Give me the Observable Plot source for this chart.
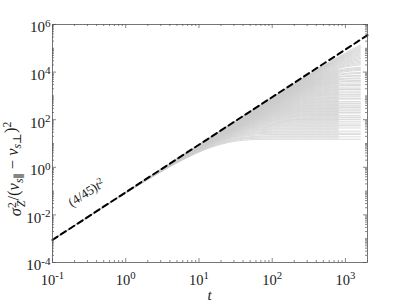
<!DOCTYPE html>
<html>
<head>
<meta charset="utf-8">
<script src="https://cdn.jsdelivr.net/npm/d3@7"></script>
<script src="https://cdn.jsdelivr.net/npm/@observablehq/plot@0.6"></script>
<style>
  html, body { margin: 0; padding: 0; background: #fff; }
  svg, svg text { font-family: "Liberation Serif", "Times New Roman", "DejaVu Serif", serif !important; }
</style>
</head>
<body>
<div id="chart"></div>
<script>
// ---- data ----
const xMajorTicks = [0.1, 1, 10, 100, 1000];
const xTickLabels = ["10^-1", "10^0", "10^1", "10^2", "10^3"];
const yMajorTicks = [1e-4, 1e-2, 1, 1e2, 1e4, 1e6];
const yTickLabels = ["10^-4", "10^-2", "10^0", "10^2", "10^4", "10^6"];

// reference line (4/45) t^2 : end points
const refT = [0.1, 2000];
const refV = [8.9e-4, 3.56e5];

// saturation levels of the grey curves and the time each one ends
const plateaus = [15, 17, 19, 21, 24, 27, 30, 33, 37, 41,
  45, 50, 55, 60, 66, 72, 79, 86, 94, 102,
  110, 120, 130, 140, 152, 165, 178, 192, 207, 223,
  240, 258, 277, 298, 320, 345, 370, 400, 430, 465,
  500, 540, 580, 625, 675, 730, 790, 850, 920, 1000,
  1080, 1170, 1260, 1360, 1470, 1590, 1720, 1860, 2000, 2170,
  2350, 2550, 2750, 3000, 3250, 3500, 3800, 4100, 4450, 4800,
  5200, 5700, 6200, 6800, 7400, 8100, 8900, 9800, 10800, 12000,
  13500, 15000, 17000, 19000, 22000, 25000, 29000, 34000, 40000, 47000,
  56000, 68000, 82000, 100000, 125000, 160000, 200000, 260000, 350000, 500000, 800000];
const endTimes = [1600, 800, 1600, 800, 1600, 1600, 800, 1600, 800, 800,
  1600, 800, 1600, 1600, 800, 1600, 800, 1600, 800, 1600,
  800, 1600, 1600, 800, 1600, 800, 800, 1600, 1600, 800,
  1600, 800, 1600, 800, 1600, 1600, 800, 1600, 800, 1600,
  1600, 800, 1600, 800, 800, 1600, 1600, 800, 1600, 800,
  1600, 1600, 800, 1600, 800, 1600, 800, 1600, 1600, 800,
  1600, 800, 1600, 1600, 800, 1600, 800, 1600, 1600, 800,
  1600, 1600, 800, 1600, 1600, 800, 1600, 1600, 800, 1600,
  1600, 1600, 1600, 800, 1600, 1600, 1600, 1600, 1600, 1600,
  1600, 1600, 1600, 1600, 1600, 1600, 1600, 1600, 1600, 1600, 1600];
const tSample = [0.1, 0.15, 0.2, 0.3, 0.5, 0.7, 1, 1.5, 2, 3, 4, 5, 6, 7, 8, 9, 10, 12, 14, 17, 20, 25, 30, 35,
  40, 50, 60, 70, 85, 100, 120, 150, 200, 250, 300, 400, 500, 650, 800, 1000, 1300, 1600];
const growth = 4 / 45;

// ---- build rows ----
const curves = [];
plateaus.forEach((P, i) => {
  const tE = endTimes[i] ?? 1600;
  const tau = Math.sqrt(P / growth);
  tSample.filter(t => t <= tE).forEach(t => {
    const r = 1 - Math.exp(-t / tau);
    curves.push({id: i, t, v: P * r * r});
  });
});
const refLine = refT.map((t, i) => ({t, v: refV[i]}));

const W = 407, H = 306, mL = 52, mR = 40, mT = 24, mB = 44;
const pw = W - mL - mR, ph = H - mT - mB;

const xMinor = [];
for (let e = -1; e <= 3; e++) for (let k = 2; k <= 9; k++) { const v = k * Math.pow(10, e); if (v <= 2000) xMinor.push(v); }
const yMinor = [];
for (let e = -4; e < 6; e++) for (let k = 1; k <= 9; k++) { const v = k * Math.pow(10, e); if (!yMajorTicks.includes(v)) yMinor.push(v); }

const FONT = "'Liberation Serif', 'Times New Roman', 'DejaVu Serif', serif";
const axisColor = "#555";
const svg = Plot.plot({
  width: W, height: H,
  marginLeft: mL, marginRight: mR, marginTop: mT, marginBottom: mB,
  style: {fontFamily: FONT, fontSize: "12px", background: "#fff"},
  x: {type: "log", domain: [0.1, 2000], axis: null},
  y: {type: "log", domain: [1e-4, 1e6], axis: null},
  marks: [
    Plot.line(curves, {x: "t", y: "v", z: "id", stroke: "#cbcbcb", strokeWidth: 0.7}),
    Plot.line(refLine, {x: "t", y: "v", stroke: "#000", strokeWidth: 2, strokeDasharray: "6,4"}),
    // ticks (inside, MATLAB box style)
    Plot.tickX(xMajorTicks, {x: d => d, insetTop: ph - 4, stroke: axisColor, strokeWidth: 0.7}),
    Plot.tickX(xMajorTicks, {x: d => d, insetBottom: ph - 4, stroke: axisColor, strokeWidth: 0.7}),
    Plot.tickX(xMinor, {x: d => d, insetTop: ph - 2, stroke: axisColor, strokeWidth: 0.7}),
    Plot.tickX(xMinor, {x: d => d, insetBottom: ph - 2, stroke: axisColor, strokeWidth: 0.7}),
    Plot.tickY(yMajorTicks, {y: d => d, insetRight: pw - 4, stroke: axisColor, strokeWidth: 0.7}),
    Plot.tickY(yMajorTicks, {y: d => d, insetLeft: pw - 4, stroke: axisColor, strokeWidth: 0.7}),
    Plot.tickY(yMinor, {y: d => d, insetRight: pw - 2, stroke: axisColor, strokeWidth: 0.7}),
    Plot.tickY(yMinor, {y: d => d, insetLeft: pw - 2, stroke: axisColor, strokeWidth: 0.7}),
    Plot.frame({stroke: axisColor, strokeWidth: 0.8}),
    // tick labels
    Plot.text(xMajorTicks, {x: d => d, text: (d, i) => xTickLabels[i], frameAnchor: "bottom", dy: 22, fontSize: 14.5, fill: "#1a1a1a"}),
    Plot.text(yMajorTicks, {y: d => d, text: (d, i) => yTickLabels[i], frameAnchor: "left", textAnchor: "end", dx: -2, dy: 3, fontSize: 15, fill: "#1a1a1a"}),
    // annotation
    Plot.text(["(4/45)t^2"], {x: [0.29], y: [0.085], text: d => d, rotate: -33, fontSize: 13, fill: "#1a1a1a"})
  ]
});

// superscripts / italics in text marks
d3.select(svg).selectAll("text").each(function() {
  const s = this.textContent;
  const sel = d3.select(this);
  const m = s.match(/^10\^(.+)$/);
  if (m) {
    this.textContent = "";
    sel.append("tspan").text("10");
    sel.append("tspan").attr("dy", "-0.5em").attr("font-size", "0.74em").text(m[1]);
    return;
  }
  if (s === "(4/45)t^2") {
    this.textContent = "";
    sel.append("tspan").text("(4/45)");
    sel.append("tspan").attr("font-style", "italic").text("t");
    sel.append("tspan").attr("dy", "-0.45em").attr("font-size", "0.72em").text("2");
  }
});

// axis titles
const root = d3.select(svg);
root.append("text")
  .attr("x", (mL + W - mR) / 2).attr("y", 300)
  .attr("text-anchor", "middle").attr("font-size", 15).attr("font-style", "italic").attr("fill", "#1a1a1a")
  .text("t");
const yt = root.append("text")
  .attr("transform", `translate(21,169) rotate(-90)`)
  .attr("text-anchor", "middle").attr("font-size", 16.5).attr("fill", "#1a1a1a");
yt.append("tspan").attr("font-style", "italic").text("σ");
yt.append("tspan").attr("dy", "-0.45em").attr("font-size", "0.7em").text("2");
yt.append("tspan").attr("dx", "-0.4em").attr("dy", "0.8em").attr("font-size", "0.7em").attr("font-style", "italic").text("Z");
yt.append("tspan").attr("dy", "-0.35em").text("/(");
yt.append("tspan").attr("font-style", "italic").text("v");
yt.append("tspan").attr("dy", "0.3em").attr("font-size", "0.7em").attr("font-style", "italic").text("s\u2225");
yt.append("tspan").attr("dy", "-0.3em").text(" \u2212 ");
yt.append("tspan").attr("font-style", "italic").text("v");
yt.append("tspan").attr("dy", "0.3em").attr("font-size", "0.7em").attr("font-style", "italic").text("s\u22A5");
yt.append("tspan").attr("dy", "-0.3em").text(")");
yt.append("tspan").attr("dy", "-0.45em").attr("font-size", "0.7em").text("2");

root.selectAll("text").attr("font-family", FONT);
document.getElementById("chart").appendChild(svg);
</script>
</body>
</html>
